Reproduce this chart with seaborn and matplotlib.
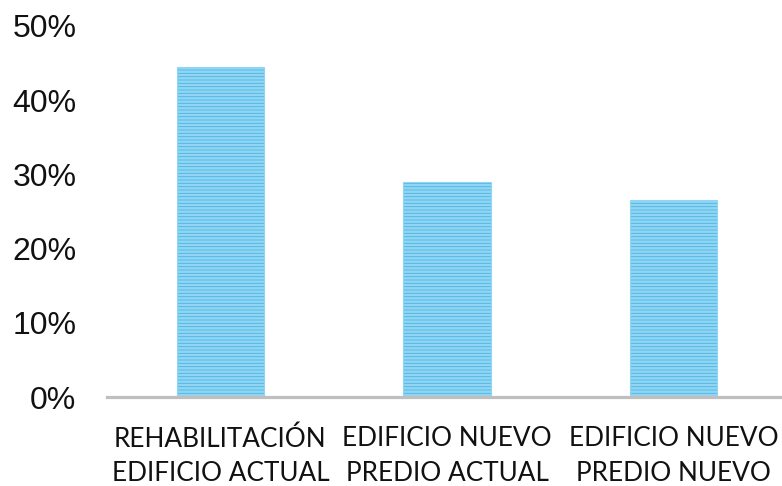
import matplotlib
matplotlib.use("Agg")
import matplotlib.pyplot as plt
import seaborn as sns
import pandas as pd

categories = [
    "REHABILITACIÓN\nEDIFICIO ACTUAL",
    "EDIFICIO NUEVO\nPREDIO ACTUAL",
    "EDIFICIO NUEVO\nPREDIO NUEVO",
]
values = [44.5, 29.0, 26.6]
y_ticks = [0, 10, 20, 30, 40, 50]
y_tick_labels = ["0%", "10%", "20%", "30%", "40%", "50%"]

sns.set_style("white")
plt.rcParams["hatch.linewidth"] = 1.8
plt.rcParams["hatch.color"] = "#92d5f3"

df = pd.DataFrame({"categoria": categories, "valor": values})

fig = plt.figure(figsize=(7.82, 4.86), dpi=100)
ax = fig.add_axes([107 / 782, 89 / 486, 680 / 782, 371 / 486])

sns.barplot(data=df, x="categoria", y="valor", color="#48b6e6",
            saturation=1, width=0.384, ax=ax)

for p in ax.patches:
    p.set_hatch("-----")
    p.set_edgecolor("#92d5f3")
    p.set_linewidth(0.8)

ax.set_ylim(0, 50)
ax.set_xlim(-0.5, 2.5)
ax.set_yticks(y_ticks)
ax.set_yticklabels(y_tick_labels, family=["Liberation Sans", "DejaVu Sans"],
                   fontsize=23, color="#111111")
ax.set_xticks(range(len(categories)))
ax.set_xticklabels(categories, family=["Lato", "DejaVu Sans"],
                   fontsize=18.8, color="#111111", linespacing=1.48)
ax.tick_params(axis="y", length=0, pad=22)
ax.tick_params(axis="x", length=0, pad=21)
ax.set_xlabel("")
ax.set_ylabel("")

for side in ["left", "right", "top"]:
    ax.spines[side].set_visible(False)
ax.spines["bottom"].set_color("#bfbfbf")
ax.spines["bottom"].set_linewidth(2.3)

fig.savefig("out.png", dpi=100)
